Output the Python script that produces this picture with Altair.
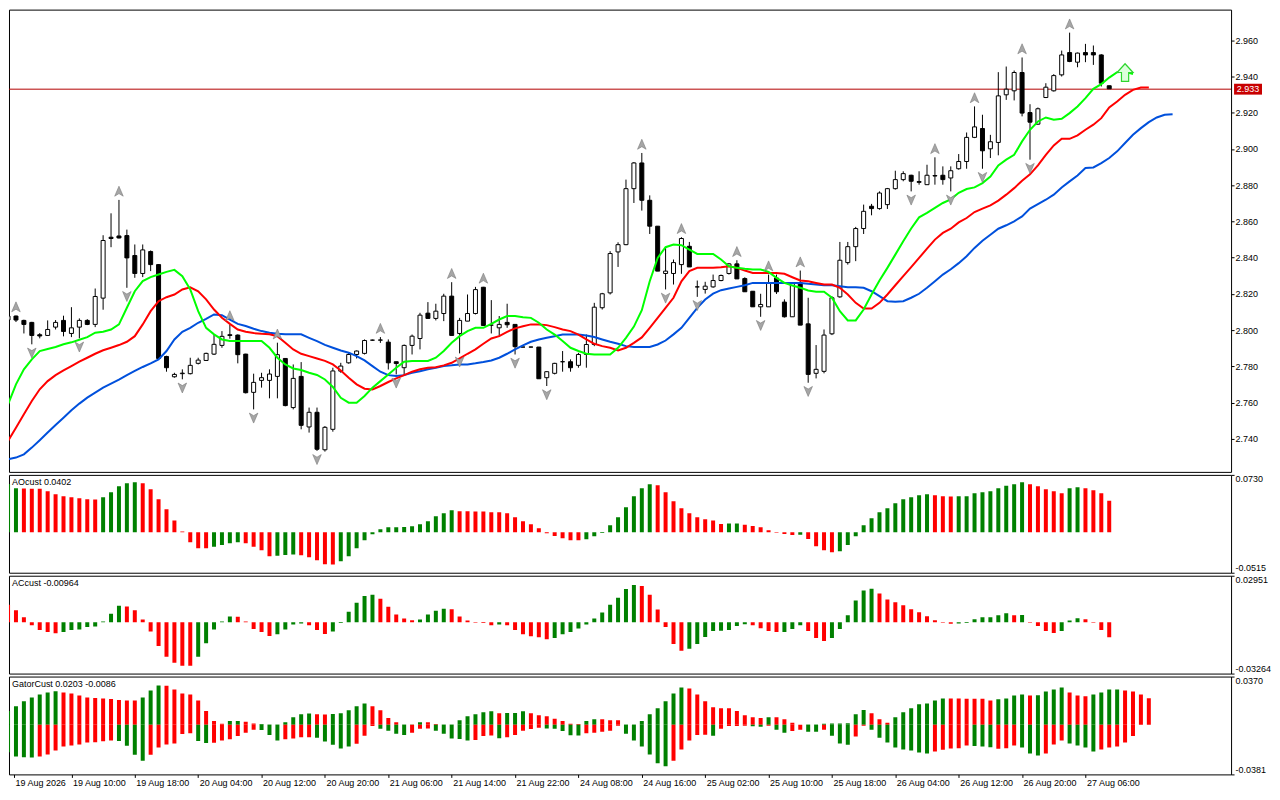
import altair as alt
import pandas as pd

# ---------------- data ----------------
OPEN = [2.8056, 2.8078, 2.8054, 2.8043, 2.7975, 2.7971, 2.8017, 2.8054, 2.7982, 2.8017,
        2.8054, 2.8032, 2.8177, 2.8513, 2.8520, 2.8522, 2.8412, 2.8313, 2.8434, 2.8362,
        2.7855, 2.7743, 2.7760, 2.7760, 2.7817, 2.7833, 2.7868, 2.7916, 2.7975, 2.7973,
        2.7868, 2.7657, 2.7723, 2.7723, 2.7745, 2.7844, 2.7573, 2.7745, 2.7466, 2.7547,
        2.7340, 2.7453, 2.7774, 2.7820, 2.7866, 2.7872, 2.7945, 2.7945, 2.7934, 2.7826,
        2.7793, 2.7916, 2.7954, 2.8094, 2.8065, 2.8092, 2.8188, 2.7982, 2.8050, 2.8092,
        2.8237, 2.8028, 2.8013, 2.8043, 2.8032, 2.7907, 2.7907, 2.7907, 2.7738, 2.7762,
        2.7826, 2.7826, 2.7806, 2.7866, 2.7921, 2.8124, 2.8206, 2.8432, 2.8472, 2.8781,
        2.8923, 2.8717, 2.8574, 2.8313, 2.8313, 2.8362, 2.8463, 2.8239, 2.8225, 2.8239,
        2.8274, 2.8313, 2.8366, 2.8285, 2.8215, 2.8129, 2.8129, 2.8288, 2.8155, 2.8074,
        2.8262, 2.8035, 2.7762, 2.7773, 2.7980, 2.8184, 2.8373, 2.8461, 2.8561, 2.8684,
        2.8671, 2.8693, 2.8781, 2.8831, 2.8855, 2.8820, 2.8803, 2.8853, 2.8855, 2.8840,
        2.8891, 2.8931, 2.9064, 2.9113, 2.9001, 2.9036, 2.9299, 2.9321, 2.9422, 2.9201,
        2.9137, 2.9284, 2.9321, 2.9409, 2.9532, 2.9479, 2.9532, 2.9532, 2.9519, 2.9349]
HIGH = [2.8081, 2.8081, 2.8058, 2.8046, 2.7984, 2.8054, 2.8056, 2.8080, 2.8127, 2.8065,
        2.8061, 2.8230, 2.8524, 2.8645, 2.8719, 2.8555, 2.8473, 2.8473, 2.8440, 2.8365,
        2.7859, 2.7765, 2.7784, 2.7848, 2.7848, 2.7876, 2.7977, 2.7995, 2.8032, 2.7977,
        2.7870, 2.7760, 2.7765, 2.7784, 2.7931, 2.7846, 2.7811, 2.7824, 2.7573, 2.7573,
        2.7471, 2.7793, 2.7820, 2.7875, 2.7888, 2.7949, 2.7948, 2.7962, 2.7949, 2.7826,
        2.7921, 2.7976, 2.8096, 2.8155, 2.8146, 2.8201, 2.8265, 2.8068, 2.8197, 2.8239,
        2.8239, 2.8166, 2.8078, 2.8146, 2.8032, 2.7909, 2.7909, 2.7907, 2.7774, 2.7820,
        2.7885, 2.7839, 2.7875, 2.7976, 2.8151, 2.8206, 2.8436, 2.8485, 2.8831, 2.8928,
        2.8978, 2.8744, 2.8574, 2.8458, 2.8390, 2.8513, 2.8487, 2.8274, 2.8267, 2.8307,
        2.8307, 2.8371, 2.8386, 2.8292, 2.8215, 2.8201, 2.8307, 2.8307, 2.8170, 2.8265,
        2.8329, 2.8179, 2.7918, 2.8004, 2.8188, 2.8487, 2.8487, 2.8570, 2.8693, 2.8697,
        2.8766, 2.8785, 2.8880, 2.8877, 2.8858, 2.8877, 2.8913, 2.8954, 2.8904, 2.8904,
        2.8972, 2.9091, 2.9235, 2.9189, 2.9078, 2.9424, 2.9455, 2.9433, 2.9505, 2.9247,
        2.9229, 2.9363, 2.9413, 2.9543, 2.9642, 2.9532, 2.9580, 2.9571, 2.9523, 2.9349]
LOW = [2.8050, 2.8045, 2.7982, 2.7922, 2.7955, 2.7968, 2.8004, 2.7966, 2.7962, 2.7955,
       2.8028, 2.8017, 2.8113, 2.8458, 2.8506, 2.8234, 2.8289, 2.8293, 2.8326, 2.7839,
       2.7771, 2.7738, 2.7729, 2.7756, 2.7811, 2.7830, 2.7863, 2.7903, 2.7953, 2.7817,
       2.7651, 2.7563, 2.7683, 2.7624, 2.7624, 2.7580, 2.7563, 2.7453, 2.7435, 2.7334,
       2.7330, 2.7440, 2.7765, 2.7815, 2.7844, 2.7866, 2.7942, 2.7930, 2.7783, 2.7756,
       2.7747, 2.7866, 2.7894, 2.8065, 2.8054, 2.8050, 2.7971, 2.7872, 2.8050, 2.8087,
       2.8024, 2.7982, 2.7964, 2.8013, 2.7866, 2.7905, 2.7905, 2.7732, 2.7692, 2.7756,
       2.7771, 2.7771, 2.7793, 2.7793, 2.7912, 2.8114, 2.8197, 2.8349, 2.8469, 2.8702,
       2.8660, 2.8531, 2.8326, 2.8225, 2.8252, 2.8311, 2.8349, 2.8184, 2.8202, 2.8234,
       2.8270, 2.8307, 2.8283, 2.8212, 2.8129, 2.8074, 2.8129, 2.8200, 2.8070, 2.8074,
       2.8028, 2.7710, 2.7734, 2.7762, 2.7973, 2.8179, 2.8362, 2.8381, 2.8531, 2.8634,
       2.8665, 2.8669, 2.8776, 2.8822, 2.8766, 2.8803, 2.8803, 2.8803, 2.8803, 2.8766,
       2.8886, 2.8891, 2.9060, 2.8891, 2.8950, 2.8965, 2.9271, 2.9268, 2.9180, 2.8941,
       2.9133, 2.9281, 2.9317, 2.9400, 2.9479, 2.9451, 2.9479, 2.9464, 2.9345, 2.9332]
CLOSE = [2.8078, 2.8056, 2.8032, 2.7971, 2.7968, 2.8004, 2.8043, 2.7993, 2.8013, 2.8054,
         2.8032, 2.8186, 2.8495, 2.8506, 2.8509, 2.8399, 2.8313, 2.8443, 2.8362, 2.7844,
         2.7793, 2.7756, 2.7763, 2.7806, 2.7835, 2.7872, 2.7922, 2.7966, 2.7971, 2.7865,
         2.7655, 2.7712, 2.7738, 2.7758, 2.7865, 2.7584, 2.7734, 2.7475, 2.7547, 2.7343,
         2.7464, 2.7775, 2.7802, 2.7866, 2.7885, 2.7943, 2.7945, 2.7946, 2.7820, 2.7816,
         2.7916, 2.7967, 2.8083, 2.8065, 2.8105, 2.8188, 2.7971, 2.8054, 2.8092, 2.8224,
         2.8026, 2.8028, 2.8032, 2.8030, 2.7909, 2.7907, 2.7907, 2.7732, 2.7771, 2.7817,
         2.7826, 2.7793, 2.7866, 2.7921, 2.8127, 2.8201, 2.8423, 2.8472, 2.8781, 2.8923,
         2.8717, 2.8574, 2.8326, 2.8326, 2.8373, 2.8506, 2.8349, 2.8239, 2.8243, 2.8274,
         2.8302, 2.8366, 2.8283, 2.8212, 2.8129, 2.8142, 2.8258, 2.8212, 2.8074, 2.8262,
         2.8028, 2.7756, 2.7784, 2.7973, 2.8179, 2.8386, 2.8461, 2.8561, 2.8656, 2.8671,
         2.8757, 2.8781, 2.8831, 2.8864, 2.8822, 2.8816, 2.8855, 2.8851, 2.8831, 2.8880,
         2.8931, 2.9064, 2.9122, 2.8990, 2.9040, 2.9293, 2.9330, 2.9422, 2.9198, 2.9148,
         2.9222, 2.9341, 2.9405, 2.9519, 2.9483, 2.9529, 2.9519, 2.9519, 2.9363, 2.9332]

# Alligator lines (lips = green, teeth = red, jaw = blue), shifted forward past the last bar
LIPS = [2.7591, 2.7701, 2.7784, 2.7839, 2.7885, 2.7896, 2.7907, 2.7922, 2.7933, 2.7947,
        2.7962, 2.7986, 2.7991, 2.8004, 2.8032, 2.8124, 2.8215, 2.8271, 2.8293, 2.8307,
        2.8322, 2.8333, 2.8298, 2.8225, 2.8105, 2.8013, 2.7977, 2.7949, 2.7940, 2.7940,
        2.7940, 2.7940, 2.7940, 2.7903, 2.7848, 2.7811, 2.7789, 2.7780, 2.7765, 2.7753,
        2.7728, 2.7687, 2.7627, 2.7600, 2.7600, 2.7637, 2.7683, 2.7719, 2.7756, 2.7793,
        2.7826, 2.7830, 2.7830, 2.7830, 2.7848, 2.7885, 2.7931, 2.7967, 2.7995, 2.8013,
        2.8013, 2.8035, 2.8059, 2.8078, 2.8078, 2.8072, 2.8068, 2.8041, 2.8004, 2.7976,
        2.7940, 2.7903, 2.7885, 2.7870, 2.7866, 2.7866, 2.7866, 2.7903, 2.7958, 2.8020,
        2.8110, 2.8270, 2.8399, 2.8458, 2.8473, 2.8469, 2.8445, 2.8421, 2.8421, 2.8421,
        2.8390, 2.8353, 2.8344, 2.8339, 2.8335, 2.8335, 2.8322, 2.8289, 2.8261, 2.8247,
        2.8234, 2.8219, 2.8212, 2.8212, 2.8179, 2.8105, 2.8054, 2.8054, 2.8114, 2.8197,
        2.8274, 2.8344, 2.8417, 2.8491, 2.8561, 2.8623, 2.8647, 2.8675, 2.8702, 2.8722,
        2.8758, 2.8779, 2.8788, 2.8812, 2.8848, 2.8909, 2.8941, 2.8968, 2.9042, 2.9106,
        2.9152, 2.9174, 2.9161, 2.9167, 2.9198, 2.9235, 2.9281, 2.9332, 2.9358, 2.9394,
        2.9424, 2.9427, 2.9413]
TEETH = [2.7389, 2.7462, 2.7536, 2.7609, 2.7674, 2.7719, 2.7752, 2.7778, 2.7802, 2.7826,
         2.7848, 2.7870, 2.7889, 2.7903, 2.7918, 2.7936, 2.7967, 2.8032, 2.8105, 2.8160,
         2.8182, 2.8197, 2.8225, 2.8237, 2.8215, 2.8170, 2.8114, 2.8069, 2.8035, 2.8004,
         2.7991, 2.7984, 2.7980, 2.7977, 2.7967, 2.7931, 2.7894, 2.7870, 2.7857, 2.7844,
         2.7831, 2.7811, 2.7778, 2.7738, 2.7701, 2.7677, 2.7673, 2.7692, 2.7714, 2.7734,
         2.7752, 2.7771, 2.7784, 2.7793, 2.7796, 2.7806, 2.7820, 2.7844, 2.7870, 2.7894,
         2.7925, 2.7954, 2.7967, 2.7991, 2.8010, 2.8022, 2.8032, 2.8032, 2.8028, 2.8017,
         2.8004, 2.7995, 2.7976, 2.7949, 2.7925, 2.7912, 2.7903, 2.7888, 2.7903, 2.7930,
         2.7960, 2.8013, 2.8068, 2.8123, 2.8179, 2.8270, 2.8326, 2.8344, 2.8344, 2.8344,
         2.8347, 2.8353, 2.8344, 2.8329, 2.8316, 2.8316, 2.8316, 2.8316, 2.8311, 2.8292,
         2.8274, 2.8270, 2.8261, 2.8252, 2.8252, 2.8234, 2.8197, 2.8151, 2.8120, 2.8120,
         2.8151, 2.8197, 2.8248, 2.8298, 2.8348, 2.8399, 2.8450, 2.8500, 2.8537, 2.8560,
         2.8595, 2.8619, 2.8652, 2.8671, 2.8689, 2.8715, 2.8748, 2.8784, 2.8825, 2.8860,
         2.8910, 2.8968, 2.9020, 2.9056, 2.9056, 2.9075, 2.9106, 2.9134, 2.9170, 2.9229,
         2.9262, 2.9299, 2.9326, 2.9339, 2.9339]
JAW = [2.7288, 2.7297, 2.7315, 2.7352, 2.7393, 2.7435, 2.7477, 2.7517, 2.7558, 2.7595,
       2.7628, 2.7655, 2.7683, 2.7705, 2.7727, 2.7752, 2.7775, 2.7797, 2.7817, 2.7839,
       2.7885, 2.7949, 2.7991, 2.8013, 2.8041, 2.8063, 2.8087, 2.8083, 2.8059, 2.8035,
       2.8023, 2.8008, 2.7995, 2.7986, 2.7980, 2.7977, 2.7977, 2.7977, 2.7958, 2.7940,
       2.7919, 2.7903, 2.7888, 2.7876, 2.7857, 2.7833, 2.7802, 2.7771, 2.7752, 2.7747,
       2.7752, 2.7765, 2.7774, 2.7784, 2.7793, 2.7802, 2.7806, 2.7811, 2.7811, 2.7817,
       2.7824, 2.7833, 2.7848, 2.7870, 2.7894, 2.7916, 2.7936, 2.7949, 2.7958, 2.7967,
       2.7976, 2.7976, 2.7976, 2.7971, 2.7962, 2.7949, 2.7936, 2.7925, 2.7912, 2.7907,
       2.7907, 2.7907, 2.7921, 2.7943, 2.7977, 2.8013, 2.8068, 2.8123, 2.8169, 2.8202,
       2.8221, 2.8230, 2.8239, 2.8248, 2.8261, 2.8261, 2.8261, 2.8261, 2.8261, 2.8261,
       2.8261, 2.8256, 2.8252, 2.8248, 2.8248, 2.8243, 2.8237, 2.8237, 2.8234, 2.8215,
       2.8188, 2.8160, 2.8157, 2.8160, 2.8179, 2.8201, 2.8234, 2.8270, 2.8307, 2.8336,
       2.8370, 2.8408, 2.8454, 2.8494, 2.8527, 2.8560, 2.8579, 2.8601, 2.8628, 2.8671,
       2.8696, 2.8720, 2.8748, 2.8788, 2.8821, 2.8854, 2.8895, 2.8898, 2.8922, 2.8950,
       2.8987, 2.9033, 2.9078, 2.9115, 2.9148, 2.9174, 2.9189, 2.9192]

FRACTAL_UP = [1, 14, 28, 34, 47, 56, 60, 80, 85, 92, 96, 100, 117, 122, 128, 134]
FRACTAL_DOWN = [3, 9, 15, 22, 31, 39, 49, 57, 64, 68, 83, 87, 95, 101, 114, 119, 123, 129]
SIGNAL_IDX = [141]
SIGNAL_PRICE = [2.9422]
BID = [2.933]

AO = [0.0614, 0.0559, 0.0557, 0.0555, 0.0553, 0.0521, 0.0483, 0.0457, 0.0445, 0.0432,
      0.0419, 0.0417, 0.0445, 0.0508, 0.0584, 0.0623, 0.0635, 0.0623, 0.0546, 0.0419,
      0.0292, 0.0148, 0.0008, -0.0127, -0.0203, -0.0205, -0.0186, -0.0161, -0.0140, -0.0127,
      -0.0140, -0.0186, -0.0229, -0.0305, -0.0300, -0.0290, -0.0282, -0.0292, -0.0318, -0.0356,
      -0.0407, -0.0409, -0.0368, -0.0305, -0.0203, -0.0102, -0.0025, 0.0038, 0.0064, 0.0065,
      0.0066, 0.0076, 0.0102, 0.0140, 0.0203, 0.0241, 0.0280, 0.0267, 0.0266, 0.0265,
      0.0264, 0.0254, 0.0253, 0.0241, 0.0191, 0.0140, 0.0102, 0.0051, -0.0013, -0.0047,
      -0.0076, -0.0102, -0.0103, -0.0089, -0.0051, -0.0008, 0.0089, 0.0191, 0.0318, 0.0457,
      0.0559, 0.0610, 0.0597, 0.0508, 0.0394, 0.0305, 0.0241, 0.0191, 0.0165, 0.0148,
      0.0106, 0.0110, 0.0112, 0.0095, 0.0080, 0.0064, 0.0025, -0.0005, -0.0022, -0.0036,
      -0.0033, -0.0085, -0.0178, -0.0229, -0.0254, -0.0241, -0.0161, -0.0051, 0.0089, 0.0178,
      0.0254, 0.0305, 0.0368, 0.0419, 0.0445, 0.0470, 0.0483, 0.0470, 0.0457, 0.0456,
      0.0458, 0.0459, 0.0496, 0.0508, 0.0521, 0.0559, 0.0593, 0.0610, 0.0635, 0.0610,
      0.0584, 0.0546, 0.0521, 0.0496, 0.0559, 0.0572, 0.0559, 0.0534, 0.0496, 0.0402]
AO_COL = list("GGRRRRRRRR" "RRGGGGGRRR" "RRRRRRGGGG" "RRRRGGGRRR" "RRGGGGGGGG"
              "GGGGGGGRRR" "RRRRRRRRRR" "RRRGGGGGGG" "GGRRRRRRRR" "RGGRRRRRRR"
              "GRRRRGGGGG" "GGGGGGGRRR" "GGGGGGGGGR" "RRRRGGRRRR")

AC = [0.0111, 0.0075, 0.0031, -0.0019, -0.0050, -0.0063, -0.0071, -0.0063, -0.0050, -0.0046,
      -0.0031, -0.0027, 0.0004, 0.0054, 0.0105, 0.0100, 0.0075, 0.0017, -0.0059, -0.0151,
      -0.0220, -0.0257, -0.0276, -0.0277, -0.0220, -0.0134, -0.0046, 0.0004, 0.0036, 0.0035,
      0.0004, -0.0044, -0.0063, -0.0088, -0.0077, -0.0046, -0.0015, -0.0008, -0.0019, -0.0050,
      -0.0075, -0.0059, -0.0006, 0.0067, 0.0123, 0.0167, 0.0174, 0.0149, 0.0098, 0.0048,
      0.0023, 0.0013, 0.0017, 0.0048, 0.0073, 0.0086, 0.0082, 0.0036, 0.0010, -0.0004,
      -0.0006, -0.0019, -0.0015, -0.0019, -0.0050, -0.0077, -0.0090, -0.0096, -0.0109, -0.0100,
      -0.0077, -0.0063, -0.0040, -0.0015, 0.0023, 0.0061, 0.0111, 0.0155, 0.0211, 0.0236,
      0.0230, 0.0174, 0.0080, -0.0031, -0.0138, -0.0182, -0.0169, -0.0138, -0.0094, -0.0056,
      -0.0055, -0.0050, -0.0025, -0.0013, -0.0019, -0.0038, -0.0056, -0.0063, -0.0062, -0.0044,
      -0.0019, -0.0056, -0.0100, -0.0119, -0.0100, -0.0044, 0.0044, 0.0138, 0.0201, 0.0213,
      0.0182, 0.0144, 0.0126, 0.0107, 0.0082, 0.0063, 0.0038, 0.0013, -0.0004, -0.0010,
      -0.0009, -0.0006, 0.0019, 0.0031, 0.0032, 0.0044, 0.0056, 0.0044, 0.0045, -0.0003,
      -0.0025, -0.0056, -0.0069, -0.0056, 0.0010, 0.0025, 0.0019, -0.0004, -0.0050, -0.00964]
AC_COL = list("RRRRRRRGGG" "GGGGGRRRRR" "RRRRGGGGGR" "RRRRGGGGRR" "RGGGGGGRRR"
              "RRGGGGRRRR" "RRGRRRRRRG" "GGGGGGGGGG" "RRRRRRGGGG" "GGGGRRRRGG"
              "GRRRGGGGGG" "RRRRRRRRRR" "GGGGGGGRGR" "RRRGGGRRRR")

GATOR_UP = [0.0106, 0.0142, 0.0180, 0.0210, 0.0233, 0.0248, 0.0258, 0.0248, 0.0240, 0.0225,
            0.0210, 0.0205, 0.0202, 0.0197, 0.0190, 0.0187, 0.0186, 0.0210, 0.0263, 0.0301,
            0.0300, 0.0271, 0.0240, 0.0233, 0.0187, 0.0106, 0.0028, 0.0008, 0.0028, 0.0029,
            0.0023, 0.0010, 0.0005, 0.0002, 0.0002, 0.0020, 0.0058, 0.0081, 0.0086, 0.0081,
            0.0078, 0.0083, 0.0089, 0.0111, 0.0142, 0.0164, 0.0142, 0.0111, 0.0051, 0.0020,
            0.0002, 0.0003, 0.0020, 0.0019, 0.0005, 0.0002, 0.0003, 0.0035, 0.0066, 0.0081,
            0.0096, 0.0104, 0.0089, 0.0090, 0.0091, 0.0104, 0.0089, 0.0073, 0.0066, 0.0046,
            0.0028, 0.0008, 0.0005, 0.0028, 0.0043, 0.0042, 0.0035, 0.0034, 0.0002, 0.0003,
            0.0028, 0.0081, 0.0127, 0.0180, 0.0240, 0.0286, 0.0278, 0.0233, 0.0180, 0.0134,
            0.0127, 0.0126, 0.0106, 0.0073, 0.0058, 0.0051, 0.0058, 0.0057, 0.0043, 0.0015,
            0.0001, 0.0002, 0.0003, 0.0008, 0.0009, 0.0010, 0.0011, 0.0081, 0.0114, 0.0089,
            0.0043, 0.0015, 0.0058, 0.0096, 0.0127, 0.0157, 0.0164, 0.0187, 0.0202, 0.0201,
            0.0201, 0.0200, 0.0200, 0.0199, 0.0187, 0.0195, 0.0202, 0.0225, 0.0233, 0.0224,
            0.0226, 0.0256, 0.0271, 0.0286, 0.0248, 0.0225, 0.0218, 0.0233, 0.0248, 0.0271,
            0.0271, 0.0263, 0.0255, 0.0233, 0.0203]
GATOR_UP_COL = list("GGGGGGGRRR" "RRRRRRRGGG" "RRRRRRRRGG" "RRGGGGGGGR" "RGGGGGRRRR"
                    "GGGRRGGGGG" "GGRGGGRRRR" "RRRGGRRRGG" "GGGGGGRRRR" "RRRRRRGRRR"
                    "RGGGGGGGGR" "RRGGGGGGGR" "RRRRRGGGGR" "GGGGRRRGGG" "GRRRR")
GATOR_DN = [-0.0210, -0.0243, -0.0250, -0.0251, -0.0243, -0.0228, -0.0197, -0.0167, -0.0159, -0.0152,
            -0.0137, -0.0134, -0.0127, -0.0121, -0.0125, -0.0162, -0.0230, -0.0276, -0.0230, -0.0175,
            -0.0152, -0.0144, -0.0071, -0.0066, -0.0124, -0.0139, -0.0138, -0.0121, -0.0111, -0.0086,
            -0.0061, -0.0038, -0.0040, -0.0078, -0.0121, -0.0111, -0.0106, -0.0096, -0.0095, -0.0100,
            -0.0129, -0.0154, -0.0182, -0.0167, -0.0145, -0.0085, -0.0010, -0.0030, -0.0046, -0.0068,
            -0.0078, -0.0061, -0.0030, -0.0028, -0.0046, -0.0068, -0.0106, -0.0109, -0.0121, -0.0116,
            -0.0086, -0.0083, -0.0104, -0.0096, -0.0078, -0.0046, -0.0033, -0.0023, -0.0028, -0.0030,
            -0.0048, -0.0081, -0.0082, -0.0066, -0.0061, -0.0053, -0.0046, -0.0008, -0.0068, -0.0121,
            -0.0167, -0.0228, -0.0296, -0.0319, -0.0276, -0.0190, -0.0121, -0.0078, -0.0077, -0.0084,
            -0.0030, -0.0010, -0.0009, -0.0008, -0.0012, -0.0015, -0.0008, -0.0038, -0.0061, -0.0048,
            -0.0038, -0.0053, -0.0054, -0.0038, -0.0084, -0.0144, -0.0154, -0.0091, -0.0008, -0.0038,
            -0.0099, -0.0137, -0.0175, -0.0190, -0.0197, -0.0213, -0.0220, -0.0205, -0.0192, -0.0182,
            -0.0181, -0.0159, -0.0163, -0.0166, -0.0172, -0.0185, -0.0180, -0.0159, -0.0175, -0.0220,
            -0.0235, -0.0220, -0.0152, -0.0121, -0.0144, -0.0159, -0.0175, -0.0205, -0.0190, -0.0175,
            -0.0167, -0.0137, -0.0086]
GATOR_DN_COL = list("GGGGRRRRRR" "RRRRGGGGRR" "RRRRGGRRRR" "RRGGGRRRRG" "GGGGRRRGGG"
                    "GRRRGGGGGR" "RRGRRRRRGG" "GGGRRRRRGG" "GGGGRRRRRG" "RRRRGGRGGR"
                    "RGGRGGGRRG" "GGGGGGGRRR" "RRGGGRRRGG" "GRRRGGGGRR" "RRR")

PRICE_TICKS = [2.740, 2.760, 2.780, 2.800, 2.820, 2.840, 2.860, 2.880, 2.900, 2.920, 2.940, 2.960]
AO_RANGE = [-0.0515, 0.0730]
AC_RANGE = [-0.03264, 0.02951]
GATOR_RANGE = [-0.0381, 0.0370]
TIME_TICK_IDX = [0, 8, 16, 24, 32, 40, 48, 56, 64, 72, 80, 88, 96, 104, 112, 120, 128, 136]
TIME_LABELS = ["19 Aug 2026", "19 Aug 10:00", "19 Aug 18:00", "20 Aug 04:00", "20 Aug 12:00",
               "20 Aug 20:00", "21 Aug 06:00", "21 Aug 14:00", "21 Aug 22:00", "24 Aug 08:00",
               "24 Aug 16:00", "25 Aug 02:00", "25 Aug 10:00", "25 Aug 18:00", "26 Aug 04:00",
               "26 Aug 12:00", "26 Aug 20:00", "27 Aug 06:00"]

# ---------------- layout / style ----------------
FONT = "Liberation Sans"
W = 1224
MAIN_H = 463
SUB_H = 98
X_DOMAIN = [0.75, 153.75]
PRICE_DOMAIN = [2.72181, 2.97691]
GREEN_BAR = "#008000"
RED_BAR = "#ff0000"

xscale = alt.Scale(domain=X_DOMAIN, nice=False, zero=False)


def xenc(axis=None):
    return alt.X("i:Q", scale=xscale, axis=axis)


price_axis = alt.Axis(values=PRICE_TICKS, format=".3f", orient="right", title=None,
                      labelOverlap=False, labelFlush=False)
pscale = alt.Scale(domain=PRICE_DOMAIN, nice=False, zero=False)


def yprice(field):
    return alt.Y(f"{field}:Q", scale=pscale, axis=price_axis)


candles = pd.DataFrame({"i": range(len(OPEN)), "o": OPEN, "h": HIGH, "l": LOW, "c": CLOSE})
bid_df = pd.DataFrame({"p": BID})

bid_rule = alt.Chart(bid_df).mark_rule(color="#b40000", strokeWidth=1).encode(y=yprice("p"))

wicks = alt.Chart(candles).mark_rule(color="black", strokeWidth=1, clip=True).encode(
    x=xenc(), y=yprice("l"), y2="h:Q")
bodies = alt.Chart(candles).mark_bar(size=4, stroke="black", strokeWidth=1, clip=True).encode(
    x=xenc(), y=yprice("o"), y2="c:Q",
    fill=alt.condition("datum.c >= datum.o", alt.value("white"), alt.value("black")))


def line_layer(vals, color):
    df = pd.DataFrame({"i": range(len(vals)), "v": vals})
    return alt.Chart(df).mark_line(color=color, strokeWidth=2, clip=True).encode(
        x=xenc(), y=yprice("v"))


jaw = line_layer(JAW, "#0050dc")
teeth = line_layer(TEETH, "#ff0000")
lips = line_layer(LIPS, "#00ff00")

UP_SHAPE = "M0,-1 L0.75,0.75 L0,0.3 L-0.75,0.75 Z"
DOWN_SHAPE = "M0,1 L0.75,-0.75 L0,-0.3 L-0.75,-0.75 Z"
fr_up = pd.DataFrame({"i": FRACTAL_UP, "p": [HIGH[k] for k in FRACTAL_UP]})
fr_dn = pd.DataFrame({"i": FRACTAL_DOWN, "p": [LOW[k] for k in FRACTAL_DOWN]})
up_pts = alt.Chart(fr_up).mark_point(shape=UP_SHAPE, size=130, filled=True, fill="#a6a6a6",
                                     stroke="#7a7a7a", strokeWidth=0.6, opacity=1, yOffset=-8,
                                     clip=True).encode(x=xenc(), y=yprice("p"))
dn_pts = alt.Chart(fr_dn).mark_point(shape=DOWN_SHAPE, size=130, filled=True, fill="#a6a6a6",
                                     stroke="#7a7a7a", strokeWidth=0.6, opacity=1, yOffset=8,
                                     clip=True).encode(x=xenc(), y=yprice("p"))

ARROW_SHAPE = "M0,-1.1 L1,0 L0.45,0 L0.45,1.1 L-0.45,1.1 L-0.45,0 L-1,0 Z"
sig_df = pd.DataFrame({"i": SIGNAL_IDX, "p": SIGNAL_PRICE})
signal = alt.Chart(sig_df).mark_point(shape=ARROW_SHAPE, size=256, filled=True, fill="#dcffdc",
                                      stroke="#2ed62e", strokeWidth=1.2, opacity=1,
                                      clip=True).encode(x=xenc(), y=yprice("p"))

box = alt.Chart(bid_df).transform_calculate(
    top="datum.p + 0.0030", bot="datum.p - 0.0030"
).mark_rect(color="#c80000").encode(
    x=alt.value(W + 3), x2=alt.value(W + 31), y=yprice("top"), y2="bot:Q")
box_text = alt.Chart(bid_df).mark_text(color="white", font=FONT, fontSize=9, align="center",
                                       baseline="middle").encode(
    x=alt.value(W + 17), y=yprice("p"), text=alt.Text("p:Q", format=".3f"))

main = alt.layer(bid_rule, wicks, bodies, jaw, teeth, lips, up_pts, dn_pts, signal,
                 box, box_text).properties(width=W, height=MAIN_H)

col_scale = alt.Scale(domain=["G", "R"], range=[GREEN_BAR, RED_BAR])


def sub_axis(rng, fmt):
    return alt.Axis(values=rng, orient="right", title=None, labelFlush=True,
                    labelOverlap=False, labelPadding=1,
                    labelExpr=f"replace(format(datum.value, '{fmt}'), '\u2212', '-')")


def title_layer(text):
    return alt.Chart(pd.DataFrame({"t": [text]})).mark_text(
        align="left", baseline="top", font=FONT, fontSize=9, color="black").encode(
        x=alt.value(3), y=alt.value(3), text="t:N")


def hist_panel(df, rng, fmt, title, xaxis=None):
    bars = alt.Chart(df).mark_bar(size=4, clip=True).encode(
        x=xenc(xaxis),
        y=alt.Y("v:Q", scale=alt.Scale(domain=rng, nice=False, zero=False), axis=sub_axis(rng, fmt)),
        y2=alt.datum(0),
        color=alt.Color("c:N", scale=col_scale, legend=None))
    return alt.layer(bars, title_layer(title)).properties(width=W, height=SUB_H)


ao_df = pd.DataFrame({"i": range(len(AO)), "v": AO, "c": AO_COL})
ac_df = pd.DataFrame({"i": range(len(AC)), "v": AC, "c": AC_COL})
gator_df = pd.concat([
    pd.DataFrame({"i": range(len(GATOR_UP)), "v": GATOR_UP, "c": GATOR_UP_COL}),
    pd.DataFrame({"i": range(len(GATOR_DN)), "v": GATOR_DN, "c": GATOR_DN_COL}),
], ignore_index=True)

label_array = "[" + ",".join(f"'{s}'" for s in TIME_LABELS) + "]"
time_axis = alt.Axis(values=[max(v, X_DOMAIN[0]) for v in TIME_TICK_IDX], orient="bottom",
                     title=None, labelAlign="left", labelBaseline="top", labelFlush=False,
                     labelOverlap=False, labelOffset=1, tickSize=3, labelPadding=1,
                     labelExpr=f"{label_array}[round(datum.value / 8)]")

ao = hist_panel(ao_df, AO_RANGE, ".4f", f"AOcust {AO[-1]:.4f}")
ac = hist_panel(ac_df, AC_RANGE, ".5f", f"ACcust {AC[-1]:.5f}")
gator = hist_panel(gator_df, GATOR_RANGE, ".4f",
                   f"GatorCust {GATOR_UP[-1]:.4f} {GATOR_DN[-1]:.4f}", xaxis=time_axis)

chart = alt.vconcat(main, ao, ac, gator, spacing=3, bounds="flush").properties(
    padding=0, background="white"
).configure_view(
    stroke="black", strokeWidth=1
).configure_axis(
    labelFont=FONT, labelFontSize=9, labelColor="black", tickColor="black", tickSize=3,
    labelPadding=1, domain=False, grid=False
)

chart.save("out.html", embed_options={"renderer": "svg", "actions": False})
